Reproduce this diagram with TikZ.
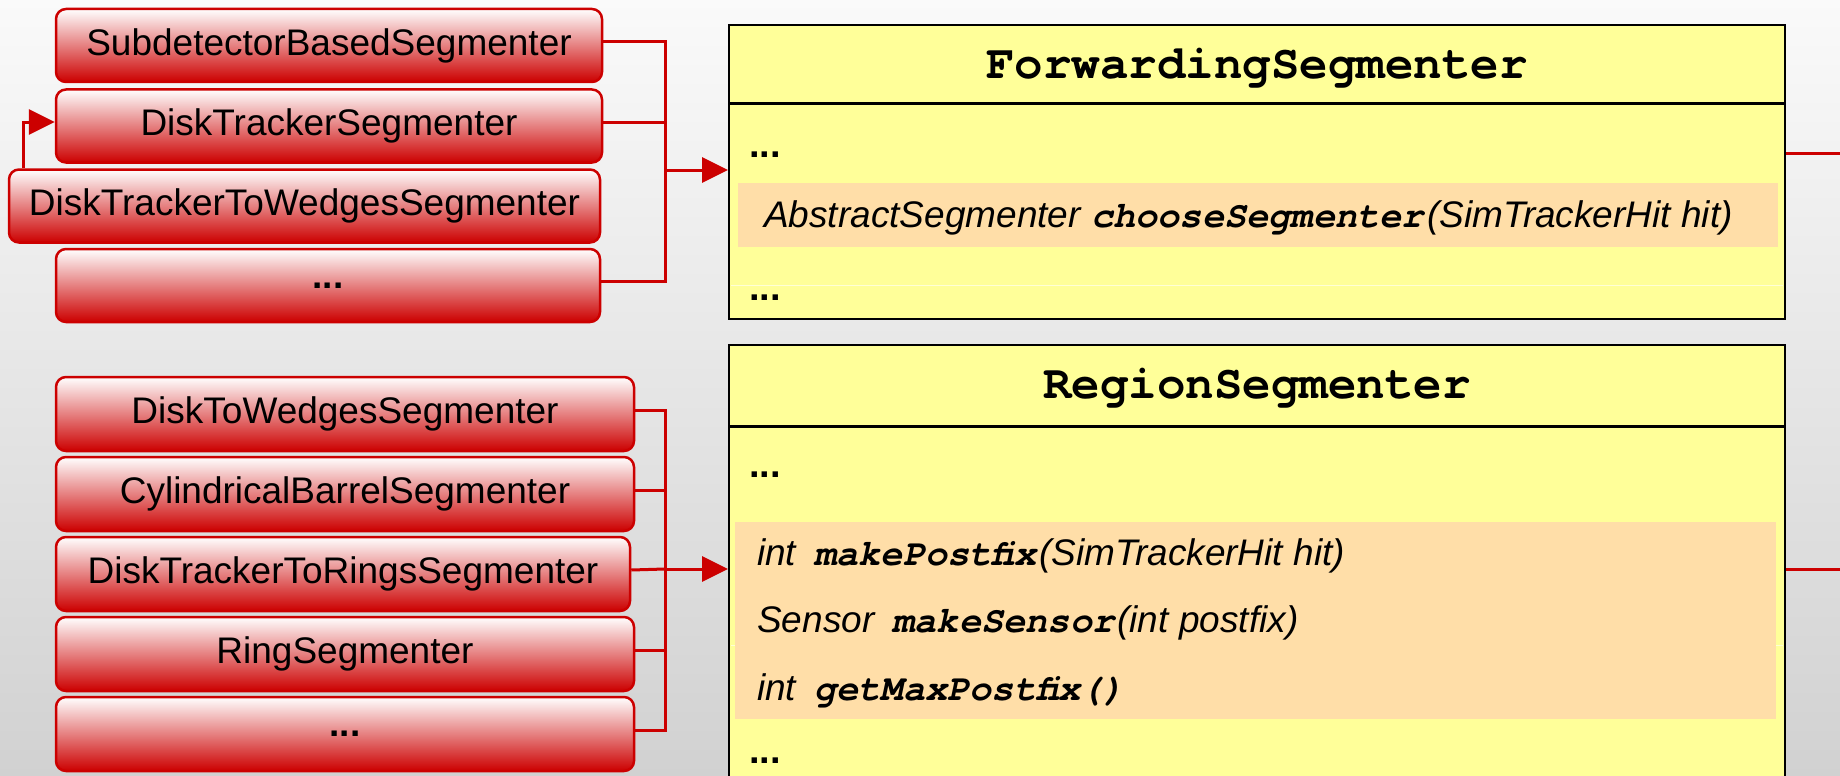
\documentclass[tikz,border=0pt]{standalone}
\usepackage{fontspec}
\setmainfont{Liberation Sans}
\newfontfamily\courfont{TeX Gyre Cursor}
\usetikzlibrary{arrows.meta}
\definecolor{segred}{RGB}{204,0,0}
\definecolor{clsyellow}{RGB}{255,255,153}
\definecolor{hilite}{RGB}{255,222,168}
\begin{document}
\begin{tikzpicture}[x=1pt,y=-1pt,
  segbox/.style={draw=segred, line width=2.5pt, rounded corners=10pt,
    top color=white, bottom color=segred, minimum height=73pt, inner sep=0pt,
    font=\fontsize{37}{44}\selectfont, text=black},
  conn/.style={draw=segred, line width=3pt},
  arr/.style={conn, -{Triangle[length=26pt,width=25pt]}},
  clsbox/.style={draw=black, line width=2pt, fill=clsyellow, inner sep=0pt},
  clstitle/.style={anchor=base, inner sep=0pt, font=\courfont\bfseries\fontsize{47.5}{56}\selectfont},
  member/.style={anchor=base west, inner sep=0pt, font=\itshape\fontsize{37}{42}\selectfont},
  dots/.style={anchor=base west, inner sep=0pt, font=\bfseries\fontsize{38}{44}\selectfont},
  hl/.style={fill=hilite, draw=none},
  faint/.style={draw=clsyellow!40!white, line width=1pt}
]
\newcommand{\mth}[1]{{\courfont\bfseries\itshape\fontsize{37}{42}\selectfont #1}}
\useasboundingbox (0,0) rectangle (1840,776);
\clip (0,0) rectangle (1840,776);
\shade[top color=black!2, bottom color=black!18] (0,0) rectangle (1840,776);

% upper group
\node[segbox, minimum width=546pt] (b1) at (329,45.5) {SubdetectorBasedSegmenter};
\node[segbox, minimum width=546pt] (b2) at (329,126) {DiskTrackerSegmenter};
\node[segbox, minimum width=591pt] (b3) at (304.5,206) {DiskTrackerToWedgesSegmenter};
\node[segbox, minimum width=544pt] (b4) at (328,285.5) {\bfseries ...};

% lower group
\node[segbox, minimum width=578pt, minimum height=74pt] (c1) at (345,414) {DiskToWedgesSegmenter};
\node[segbox, minimum width=578pt, minimum height=74pt] (c2) at (345,494) {CylindricalBarrelSegmenter};
\node[segbox, minimum width=574pt, minimum height=74pt] (c3) at (343,574) {DiskTrackerToRingsSegmenter};
\node[segbox, minimum width=578pt, minimum height=74pt] (c4) at (345,654) {RingSegmenter};
\node[segbox, minimum width=578pt, minimum height=74pt] (c5) at (345,734) {\bfseries ...};

% ForwardingSegmenter class
\node[clsbox, minimum width=1056pt, minimum height=294pt] (fs) at (1257,172) {};
\fill[hl] (738,183) rectangle (1778,247);
\draw[faint] (731,285) -- (1783,285);
\draw[line width=3pt] (fs.west |- 0,103) -- (fs.east |- 0,103);
\node[clstitle] (fst) at (1257,78) {ForwardingSegmenter};
\node[dots] (fsd1) at (749,157) {...};
\node[member] (fsm) at (764,227) {AbstractSegmenter \mth{chooseSegmenter}\hspace{3pt}(SimTrackerHit hit)};
\node[dots] (fsd2) at (749,300) {...};

% RegionSegmenter class
\node[clsbox, minimum width=1056pt, minimum height=455pt] (rs) at (1257,572.5) {};
\fill[hl] (735,522) rectangle (1776,719);
\draw[faint] (731,645) -- (735,645);
\draw[faint] (1776,645) -- (1783,645);
\draw[line width=3pt] (rs.west |- 0,426) -- (rs.east |- 0,426);
\node[clstitle] (rst) at (1257,398) {RegionSegmenter};
\node[dots] (rsd1) at (749,477) {...};
\node[member] (rsm1) at (757,565) {int\hspace{18pt}\mth{makePostfix}\hspace{3pt}(SimTrackerHit hit)};
\node[member] (rsm2) at (757,632) {Sensor\hspace{18pt}\mth{makeSensor}\hspace{3pt}(int postfix)};
\node[member] (rsm3) at (757,700) {int\hspace{18pt}\mth{getMaxPostfix()}};
\node[dots] (rsd2) at (749,763) {...};

% connectors upper
\coordinate (j1) at (665,170);
\draw[conn] ([yshift=4pt]b1.east) -| (j1);
\draw[conn] ([yshift=4pt]b2.east) -- ([yshift=4pt]b2.east -| j1);
\draw[conn] ([yshift=4pt]b4.east) -| (j1);
\draw[arr] (j1) -- (j1 -| fs.west);
\draw[arr] ([xshift=15.5pt]b3.north west) |- ([yshift=4pt]b2.west);

% connectors lower
\coordinate (j2) at (665,569);
\draw[conn] ([yshift=4pt]c1.east) -| (j2);
\draw[conn] ([yshift=4pt]c2.east) -- ([yshift=4pt]c2.east -| j2);
\draw[conn] ([yshift=4pt]c4.east) -- ([yshift=4pt]c4.east -| j2);
\draw[conn] ([yshift=4pt]c5.east) -| (j2);
\draw[conn] ([yshift=4pt]c3.east) -- (j2);
\draw[arr] (j2) -- (j2 -| rs.west);

% outgoing lines
\coordinate (o1) at (1840,153);
\coordinate (o2) at (1840,569);
\draw[conn] (o1 -| fs.east) -- (o1);
\draw[conn] (o2 -| rs.east) -- (o2);
\end{tikzpicture}
\end{document}
